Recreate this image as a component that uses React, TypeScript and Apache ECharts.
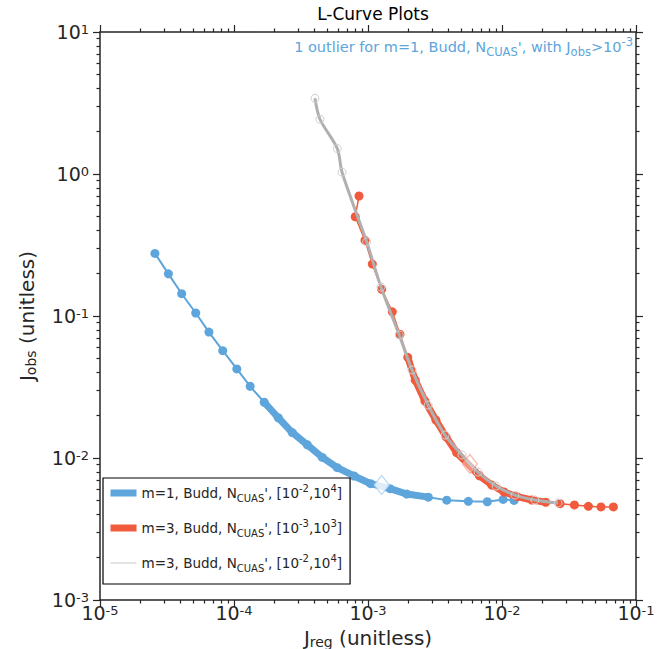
import React, { useEffect, useRef } from "react";
import * as echarts from "echarts";

const FONT = "DejaVu Sans";
const BLUE = "#5DA5DA";
const RED = "#F15A3C";
const GRAY = "#B0B0B0";

// m=1, Budd, N_CUAS', [1e-2, 1e4]
const blueX = [2.57e-5, 3.24e-5, 4.07e-5, 5.18e-5, 6.5e-5, 8.24e-5, 1.05e-4, 1.32e-4, 1.68e-4, 2.14e-4, 2.72e-4, 3.52e-4, 4.56e-4, 5.9e-4, 7.87e-4, 1.047e-3, 1.46e-3, 1.95e-3, 2.82e-3, 3.87e-3, 5.61e-3, 7.77e-3, 1.02e-2, 1.23e-2];
const blueY = [0.276, 0.198, 0.1435, 0.105, 0.077, 0.057, 0.0424, 0.032, 0.0247, 0.0192, 0.0151, 0.0124, 0.0101, 0.00855, 0.00747, 0.00659, 0.00608, 0.00557, 0.0053, 0.00505, 0.00495, 0.00492, 0.00511, 0.00503];
const blueDense = [8, 18];

// m=3, Budd, N_CUAS', [1e-3, 1e3]
const redX = [8.57e-4, 8.03e-4, 9.5e-4, 1.077e-3, 1.265e-3, 1.518e-3, 1.733e-3, 1.98e-3, 2.25e-3, 2.66e-3, 3.21e-3, 3.82e-3, 4.59e-3, 6.78e-3, 8.38e-3, 1.035e-2, 1.3e-2, 1.67e-2, 2.12e-2, 2.71e-2, 3.47e-2, 4.41e-2, 5.48e-2, 6.78e-2];
const redY = [0.7, 0.5, 0.341, 0.232, 0.154, 0.107, 0.0743, 0.0512, 0.0354, 0.0252, 0.0185, 0.0141, 0.0109, 0.0075, 0.00645, 0.00576, 0.00534, 0.00506, 0.00488, 0.00477, 0.00467, 0.00457, 0.00452, 0.00452];
const redDense = [7, 18];

// m=3, Budd, N_CUAS', [1e-2, 1e4]
const grayX = [4.02e-4, 4.38e-4, 5.9e-4, 6.4e-4, 9.77e-4, 1.25e-3, 1.71e-3, 2.13e-3, 2.81e-3, 3.76e-3, 5.03e-3, 6.62e-3, 9.02e-3, 1.25e-2, 1.76e-2, 2.62e-2];
const grayY = [3.41, 2.43, 1.51, 1.03, 0.333, 0.16, 0.0735, 0.0417, 0.0236, 0.0145, 0.0105, 0.00796, 0.00635, 0.00548, 0.00506, 0.00482];

// selected points (diamonds)
const outlierBlue = [1.265e-3, 0.00645];
const cornerRed = [5.76e-3, 0.00907];

const seriesNames = ["m1-1e-2-1e4", "m3-1e-3-1e3", "m3-1e-2-1e4"];
const legendLabels = [
  "m=1, Budd, N{sub|CUAS}', [10{sup|-2},10{sup|4}]",
  "m=3, Budd, N{sub|CUAS}', [10{sup|-3},10{sup|3}]",
  "m=3, Budd, N{sub|CUAS}', [10{sup|-2},10{sup|4}]",
];

const xMajor = [1e-5, 1e-4, 1e-3, 1e-2, 1e-1];
const yMajor = [1e-3, 1e-2, 1e-1, 1e0, 1e1];
const xMin = 1e-5, xMax = 1e-1, yMin = 1e-3, yMax = 1e1;

function minorTicks(lo: number, hi: number) {
  const out: number[] = [];
  for (let e = lo; e < hi; e++) for (let k = 2; k <= 9; k++) out.push(k * Math.pow(10, e));
  return out;
}
const xMinor = minorTicks(-5, -1);
const yMinor = minorTicks(-3, 1);

const zip = (xs: number[], ys: number[]) => xs.map((x, i) => [x, ys[i]]);

const INK = "#262626";
const tickRich = {
  b: { fontSize: 19, fontFamily: FONT, color: INK, lineHeight: 18 },
  s: { fontSize: 13, fontFamily: FONT, color: INK, verticalAlign: "top", lineHeight: 9 },
};
const powLabel = (v: number) => `{b|10}{s|${Math.round(Math.log10(v))}}`;

function makeAxis(kind: "x" | "y", position: string, major: boolean, withLabels: boolean) {
  const isX = kind === "x";
  const ticks = isX ? (major ? xMajor : xMinor) : (major ? yMajor : yMinor);
  const ax: any = {
    type: "log",
    logBase: 10,
    position,
    min: isX ? xMin : yMin,
    max: isX ? xMax : yMax,
    splitLine: { show: false },
    axisLine: { show: major, onZero: false, lineStyle: { color: INK, width: 1.5 } },
    axisTick: {
      show: true,
      customValues: ticks,
      length: major ? 7 : 3.5,
      lineStyle: { color: INK, width: 1.2 },
    },
    axisLabel: withLabels
      ? {
          show: true,
          customValues: ticks,
          formatter: powLabel,
          fontSize: 19,
          fontFamily: FONT,
          color: INK,
          lineHeight: 18,
          rich: tickRich,
          margin: isX ? 4 : 11,
          hideOverlap: false,
        }
      : { show: false },
  };
  return ax;
}

const nameStyle = {
  fontSize: 20,
  fontFamily: FONT,
  color: INK,
  lineHeight: 22,
  rich: {
    n: { fontSize: 20, fontFamily: FONT, color: INK, lineHeight: 22 },
    sub: { fontSize: 14, fontFamily: FONT, color: INK, verticalAlign: "bottom", lineHeight: 12 },
  },
};

export default function App() {
  const ref = useRef<HTMLDivElement>(null);
  useEffect(() => {
    if (!ref.current) return;
    const chart = echarts.init(ref.current, null, { renderer: "svg" });

    const xAxes = [
      makeAxis("x", "bottom", true, true),
      makeAxis("x", "bottom", false, false),
      makeAxis("x", "top", true, false),
      makeAxis("x", "top", false, false),
    ];
    xAxes[0].name = "{n|J}{sub|reg}{n| (unitless)}";
    xAxes[0].nameLocation = "middle";
    xAxes[0].nameGap = 10;
    xAxes[0].nameTextStyle = nameStyle;
    const yAxes = [
      makeAxis("y", "left", true, true),
      makeAxis("y", "left", false, false),
      makeAxis("y", "right", true, false),
      makeAxis("y", "right", false, false),
    ];
    yAxes[0].name = "{n|J}{sub|obs}{n| (unitless)}";
    yAxes[0].nameLocation = "middle";
    yAxes[0].nameGap = 62;
    yAxes[0].nameRotate = 90;
    yAxes[0].nameTextStyle = nameStyle;

    const blueData = zip(blueX, blueY);
    const redData = zip(redX, redY);
    const grayData = zip(grayX, grayY);

    const option: any = {
      animation: false,
      backgroundColor: "#ffffff",
      title: {
        text: "L-Curve Plots",
        left: 368,
        textAlign: "center",
        top: 0,
        textStyle: { fontFamily: FONT, fontSize: 17, fontWeight: "normal", color: "#000" },
      },
      grid: {
        left: 100,
        right: 21,
        top: 32,
        bottom: 49,
        containLabel: false,
        outerBoundsMode: "none",
      },
      xAxis: xAxes,
      yAxis: yAxes,
      legend: {
        orient: "vertical",
        left: 103,
        top: 478,
        padding: [5, 8, 11, 4],
        itemGap: 15,
        itemWidth: 26,
        itemHeight: 12,
        borderColor: "#000",
        borderWidth: 1.2,
        borderRadius: 0,
        backgroundColor: "#fff",
        data: [
          { name: seriesNames[0], itemStyle: { opacity: 0 }, lineStyle: { width: 7, color: BLUE } },
          { name: seriesNames[1], itemStyle: { opacity: 0 }, lineStyle: { width: 7, color: RED } },
          { name: seriesNames[2], itemStyle: { opacity: 0 }, lineStyle: { width: 1, color: "#c8c8c8" } },
        ],
        formatter: (name: string) => legendLabels[seriesNames.indexOf(name)],
        textStyle: {
          fontFamily: FONT,
          fontSize: 13.5,
          color: INK,
          lineHeight: 20,
          rich: {
            sub: { fontFamily: FONT, fontSize: 10, color: INK, verticalAlign: "bottom", lineHeight: 12 },
            sup: { fontFamily: FONT, fontSize: 10, color: INK, verticalAlign: "top", lineHeight: 12 },
          },
        },
      },
      graphic: [
        {
          type: "text",
          x: 633,
          y: 47,
          style: {
            text: "1 outlier for m=1, Budd, N{sub|CUAS}', with J{sub|obs}>10{sup|-3}",
            align: "right",
            verticalAlign: "middle",
            fill: BLUE,
            fontFamily: FONT,
            fontSize: 14.5,
            lineHeight: 22,
            rich: {
              sub: { fontFamily: FONT, fontSize: 11.5, fill: BLUE, verticalAlign: "bottom", lineHeight: 12 },
              sup: { fontFamily: FONT, fontSize: 11.5, fill: BLUE, verticalAlign: "top", lineHeight: 12 },
            },
          },
          z: 100,
        },
      ],
      series: [
        {
          name: seriesNames[0],
          type: "line",
          data: blueData,
          symbol: "circle",
          symbolSize: 9,
          color: BLUE,
          lineStyle: { width: 2, color: BLUE },
          itemStyle: { color: BLUE },
          z: 2,
        },
        {
          name: seriesNames[0],
          type: "line",
          data: blueData.slice(blueDense[0], blueDense[1] + 1),
          symbol: "none",
          color: BLUE,
          lineStyle: { width: 7, color: BLUE },
          z: 2,
        },
        {
          name: seriesNames[1],
          type: "line",
          data: redData,
          symbol: "circle",
          symbolSize: 9,
          color: RED,
          lineStyle: { width: 1.5, color: RED },
          itemStyle: { color: RED },
          z: 3,
        },
        {
          name: seriesNames[1],
          type: "line",
          data: redData.slice(redDense[0], redDense[1] + 1),
          symbol: "none",
          color: RED,
          lineStyle: { width: 7, color: RED },
          z: 3,
        },
        {
          name: seriesNames[2],
          type: "line",
          data: grayData,
          symbol: "circle",
          symbolSize: 8,
          smooth: 0.3,
          color: GRAY,
          lineStyle: { width: 3, color: GRAY },
          itemStyle: { color: "rgba(255,255,255,0)", borderColor: "#cfcfcf", borderWidth: 1 },
          z: 4,
        },
        {
          name: "selected",
          type: "scatter",
          data: [
            { value: outlierBlue, itemStyle: { color: "#fff", borderColor: "#a9cff0", borderWidth: 1.2 } },
            { value: cornerRed, itemStyle: { color: "rgba(255,255,255,0.4)", borderColor: "#f5a493", borderWidth: 1.2 } },
          ],
          symbol: "diamond",
          symbolSize: [15, 19],
          z: 5,
        },
      ],
    };
    chart.setOption(option);
    return () => chart.dispose();
  }, []);

  return (
    <div
      ref={ref}
      style={{ position: "absolute", left: 0, top: 0, width: 657, height: 649, background: "#fff" }}
    />
  );
}
